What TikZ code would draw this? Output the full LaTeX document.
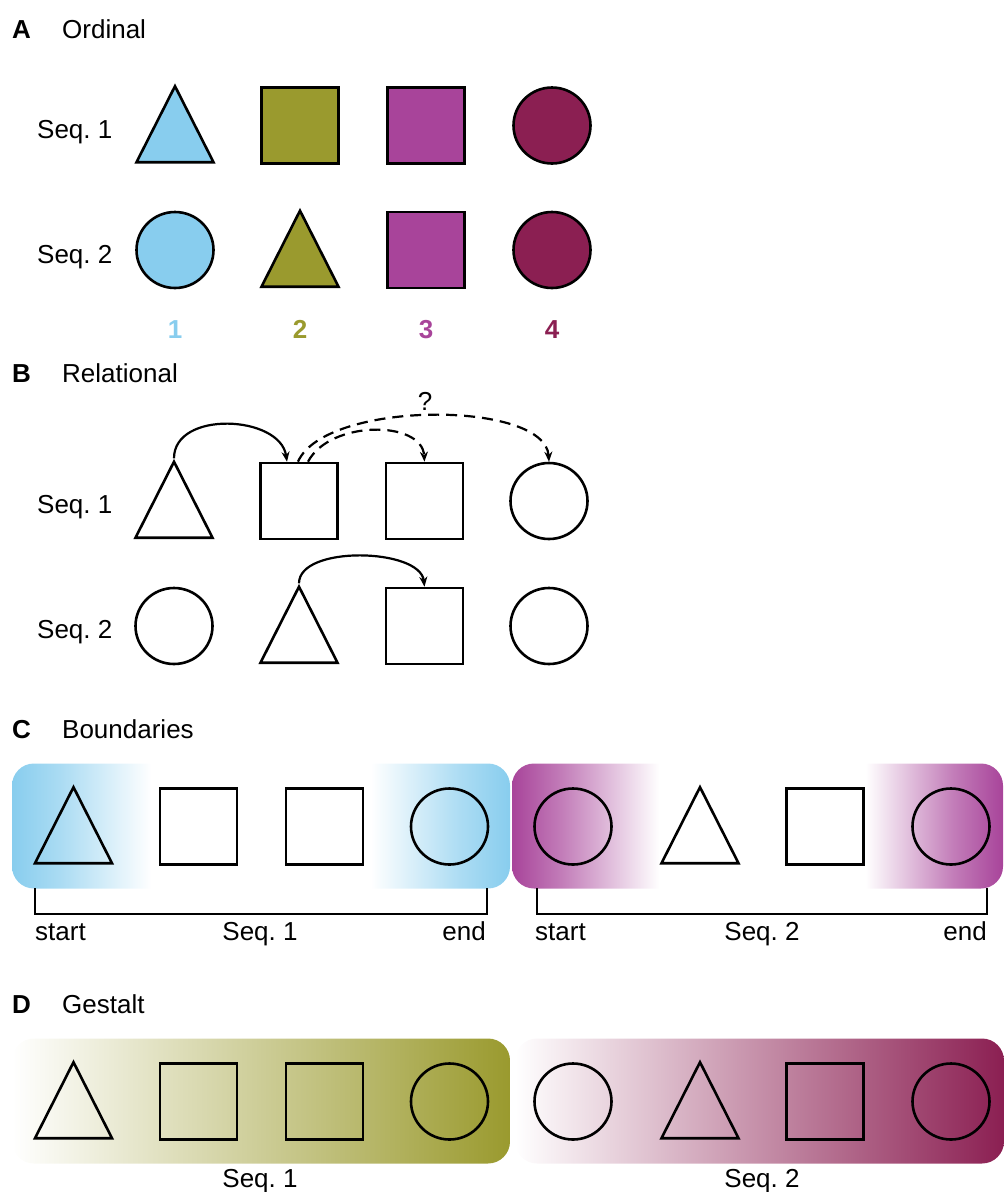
\documentclass[tikz,border=0pt]{standalone}
\usepackage{fontspec}
\setmainfont{Liberation Sans}
\usetikzlibrary{arrows.meta,shapes.geometric}
\definecolor{SeqBlue}{HTML}{88CDEE}
\definecolor{SeqOlive}{HTML}{9A9A2E}
\definecolor{SeqPink}{HTML}{A8449A}
\definecolor{SeqWine}{HTML}{8B1F52}
\pgfdeclarehorizontalshading{edgeblue}{100bp}{color(0bp)=(SeqBlue); color(25bp)=(SeqBlue); color(30bp)=(SeqBlue!70); color(39bp)=(white); color(61bp)=(white); color(70bp)=(SeqBlue!70); color(75bp)=(SeqBlue); color(100bp)=(SeqBlue)}
\pgfdeclarehorizontalshading{edgepink}{100bp}{color(0bp)=(SeqPink); color(25bp)=(SeqPink); color(30bp)=(SeqPink!70); color(40bp)=(white); color(61bp)=(white); color(70bp)=(SeqPink!70); color(75bp)=(SeqPink); color(100bp)=(SeqPink)}

\begin{document}
\begin{tikzpicture}[x=1pt, y=-1pt, font=\fontsize{26}{31}\selectfont,
  item/.style={draw, line width=2.6pt, inner sep=0pt},
  sq/.style={item, rectangle, minimum width=77pt, minimum height=76pt},
  circ/.style={item, ellipse, minimum width=77pt, minimum height=76pt},
  tri/.style={item, isosceles triangle, isosceles triangle stretches, shape border rotate=90, minimum width=77pt, minimum height=76pt, anchor=south},
  title/.style={anchor=base west, inner sep=0pt},
  head/.style={title, font=\fontsize{26}{31}\selectfont\bfseries},
  lab/.style={anchor=base, inner sep=0pt},
  num/.style={lab, font=\fontsize{26}{31}\selectfont\bfseries},
  rel/.style={-{Stealth[length=10pt, width=8pt]}, line width=2.2pt},
  guess/.style={rel, dash pattern=on 11pt off 7pt},
  band/.style={rounded corners=22pt, minimum height=125pt, inner sep=0pt},
  brace/.style={line width=2.2pt}]
\useasboundingbox (0,0) rectangle (1004,1192);

% A: ordinal
\node[head] (ha) at (12,38) {A}; \node[title] (ta) at (62,38) {Ordinal};
\node[title] (sa1) at (37,138) {Seq.\ 1}; \node[title] (sa2) at (37,263) {Seq.\ 2};
\node[tri, fill=SeqBlue] (a1tri) at (175,163.5) {};
\node[sq, fill=SeqOlive] (a1sqA) at (300,125.5) {};
\node[sq, fill=SeqPink] (a1sqB) at (426,125.5) {};
\node[circ, fill=SeqWine] (a1circ) at (552,125.5) {};
\node[circ, fill=SeqBlue] (a2circ) at (175,250) {};
\node[tri, fill=SeqOlive] (a2tri) at (300,288) {};
\node[sq, fill=SeqPink] (a2sq) at (426,250) {};
\node[circ, fill=SeqWine] (a2circB) at (552,250) {};
\node[num, text=SeqBlue] (n1) at (175,338) {1}; \node[num, text=SeqOlive] (n2) at (300,338) {2};
\node[num, text=SeqPink] (n3) at (426,338) {3}; \node[num, text=SeqWine] (n4) at (552,338) {4};

% B: relational
\node[head] (hb) at (12,382) {B}; \node[title] (tb) at (62,382) {Relational};
\node[title] (sb1) at (37,513) {Seq.\ 1}; \node[title] (sb2) at (37,638) {Seq.\ 2};
\node[tri] (b1tri) at (174,539) {};
\node[sq] (b1sqA) at (299,501) {};
\node[sq] (b1sqB) at (424.5,501) {};
\node[circ] (b1circ) at (549,501) {};
\node[circ] (b2circ) at (174,626) {};
\node[tri] (b2tri) at (299,664) {};
\node[sq] (b2sq) at (424.5,626) {};
\node[circ] (b2circB) at (549,626) {};
\draw[rel] (b1tri.apex) .. controls (174,410) and (280,415) .. ([xshift=-12pt]b1sqA.north);
\draw[guess] ([xshift=-1pt]b1sqA.north) .. controls (325,400) and (545,400) .. (b1circ.north);
\draw[guess] ([xshift=9pt]b1sqA.north) .. controls (330,420) and (422,420) .. (b1sqB.north);
\node[lab] (qm) at (425,410) {?};
\draw[rel] (b2tri.apex) .. controls (299,545) and (420,548) .. (b2sq.north);

% C: boundaries
\node[head] (hc) at (12,738) {C}; \node[title] (tc) at (62,738) {Boundaries};
\node[band, minimum width=498pt, shading=edgeblue] (c1band) at (261,826) {};
\node[band, minimum width=491pt, shading=edgepink] (c2band) at (757.5,826) {};
\node[tri] (c1tri) at (73.5,864.5) {};
\node[sq] (c1sqA) at (198.5,826.5) {};
\node[sq] (c1sqB) at (324.5,826.5) {};
\node[circ] (c1circ) at (449.5,826.5) {};
\node[circ] (c2circ) at (573,826.5) {};
\node[tri] (c2tri) at (700,864.5) {};
\node[sq] (c2sq) at (825,826.5) {};
\node[circ] (c2circB) at (951,826.5) {};
\draw[brace] (35,888) -- (35,914) -- (487,914) -- (487,888);
\draw[brace] (537,888) -- (537,914) -- (987,914) -- (987,888);
\node[title] (c1start) at (35,940) {start}; \node[lab] (c1seq) at (260,940) {Seq.\ 1};
\node[lab, anchor=base east] (c1end) at (486,940) {end};
\node[title] (c2start) at (535,940) {start}; \node[lab] (c2seq) at (762,940) {Seq.\ 2};
\node[lab, anchor=base east] (c2end) at (987,940) {end};

% D: gestalt
\node[head] (hd) at (12,1013) {D}; \node[title] (td) at (62,1013) {Gestalt};
\node[band, minimum width=498pt, left color=white, right color=SeqOlive] (d1band) at (261,1101) {};
\node[band, minimum width=489pt, left color=white, right color=SeqWine] (d2band) at (759.5,1101) {};
\node[tri] (d1tri) at (73.5,1139.5) {};
\node[sq] (d1sqA) at (198.5,1101.5) {};
\node[sq] (d1sqB) at (324.5,1101.5) {};
\node[circ] (d1circ) at (449.5,1101.5) {};
\node[circ] (d2circ) at (573,1101.5) {};
\node[tri] (d2tri) at (700,1139.5) {};
\node[sq] (d2sq) at (825,1101.5) {};
\node[circ] (d2circB) at (951,1101.5) {};
\node[lab] (d1seq) at (260,1187) {Seq.\ 1}; \node[lab] (d2seq) at (762,1187) {Seq.\ 2};
\end{tikzpicture}
\end{document}
